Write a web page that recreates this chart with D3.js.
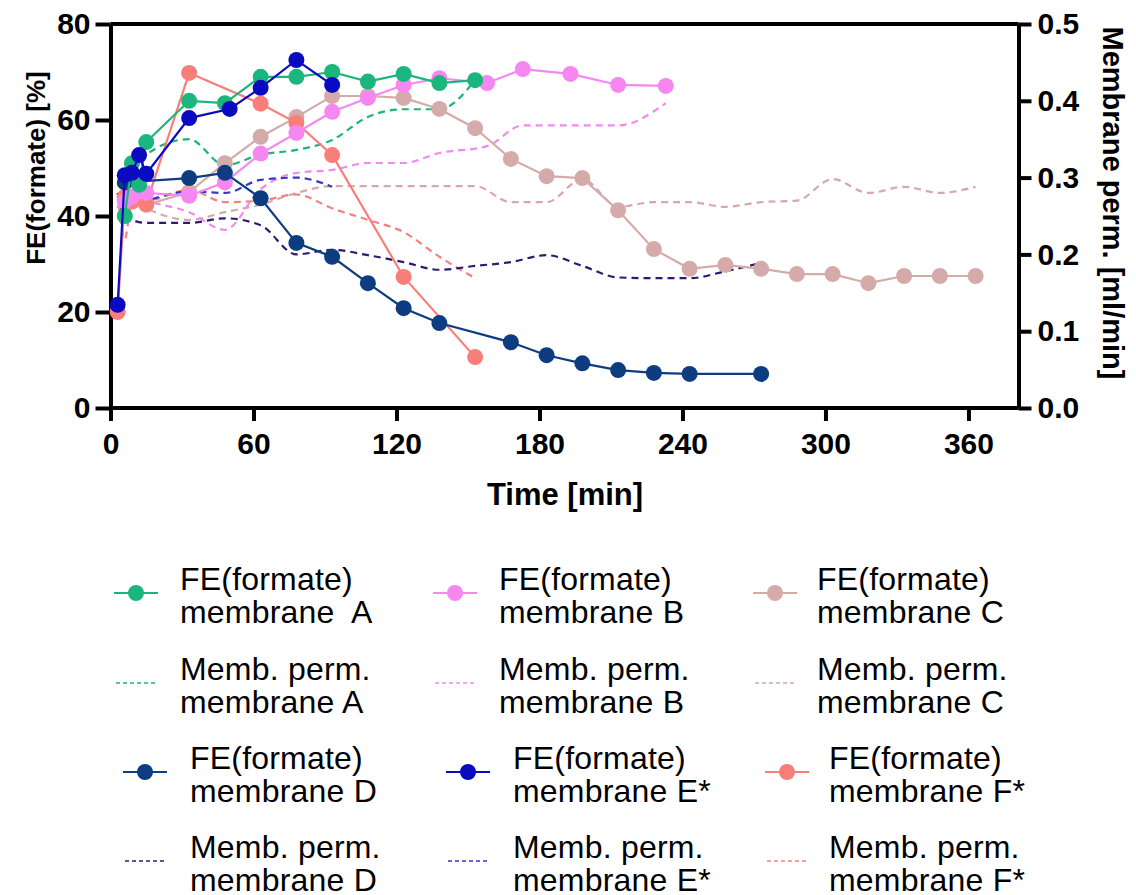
<!DOCTYPE html>
<html>
<head>
<meta charset="utf-8">
<title>FE formate vs membrane permeation</title>
<script src="https://cdnjs.cloudflare.com/ajax/libs/d3/7.8.5/d3.min.js"></script>
<style>
body { margin: 0; background: #fff; font-family: "Liberation Sans", Arial, sans-serif; }
.axis path, .axis line { stroke: #000; stroke-width: 4; }
.axis text { font-family: "Liberation Sans", Arial, sans-serif; font-weight: bold; font-size: 30px; fill: #000; }
.axis-title { font-family: "Liberation Sans", Arial, sans-serif; font-weight: bold; fill: #000; }
.legend text { font-family: "Liberation Sans", Arial, sans-serif; font-size: 32px; letter-spacing: 0.2px; fill: #000; }
</style>
</head>
<body>
<div id="chart"></div>
<script>
// FE(formate) [%] per membrane, time in min
var timeA = [6, 9, 12, 15, 33, 48, 63, 78, 93, 108, 123, 138, 153];
var feA   = [40, 51, 46.5, 55.4, 64, 63.5, 69, 69, 70, 68, 69.6, 67.7, 68.3];

var timeB = [6, 9, 15, 33, 48, 63, 78, 93, 108, 123, 138, 158, 173, 193, 213, 233];
var feB   = [43, 44, 44.8, 44.2, 47, 53, 57.3, 61.7, 64.6, 67.3, 68.7, 67.7, 70.6, 69.6, 67.3, 67.1];

var timeC = [9, 15, 33, 48, 63, 78, 93, 108, 123, 138, 153, 168, 183, 198, 213, 228, 243, 258, 273, 288, 303, 318, 333, 348, 363];
var feC   = [44, 42.3, 45, 51, 56.5, 60.6, 65, 65, 64.6, 62.3, 58.3, 51.9, 48.3, 47.9, 41.2, 33.1, 29, 29.8, 29, 27.9, 27.9, 26, 27.5, 27.5, 27.5];

var timeD = [6, 33, 48, 63, 78, 93, 108, 123, 138, 168, 183, 198, 213, 228, 243, 273];
var feD   = [47, 47.9, 49, 43.7, 34.4, 31.5, 26, 20.8, 17.7, 13.7, 11, 9.3, 7.9, 7.3, 7.1, 7.1];

var timeE = [3, 6, 9, 12, 15, 33, 50, 63, 78, 93];
var feE   = [21.5, 48.5, 49, 52.7, 48.8, 60.4, 62.3, 66.7, 72.5, 67.3];

var timeF = [3, 6, 9, 15, 33, 63, 78, 93, 123, 153];
var feF   = [20, 44, 43, 42.5, 69.8, 63.4, 59.4, 52.7, 27.3, 10.6];

// membrane permeation [ml/min]
var ptimeA = [3, 6, 15, 33, 48, 63, 78, 93, 108, 123, 138, 153];
var permA  = [0.27, 0.30, 0.33, 0.35, 0.316, 0.33, 0.336, 0.349, 0.379, 0.389, 0.389, 0.427];

var ptimeB = [3, 6, 15, 33, 48, 63, 78, 93, 108, 123, 138, 158, 173, 193, 213, 233];
var permB  = [0.26, 0.28, 0.27, 0.255, 0.232, 0.285, 0.306, 0.31, 0.319, 0.319, 0.332, 0.341, 0.368, 0.368, 0.368, 0.397];

var ptimeC = [3, 9, 15, 33, 48, 63, 78, 93, 108, 123, 138, 153, 168, 183, 198, 213, 228, 243, 258, 273, 288, 303, 318, 333, 348, 363];
var permC  = [0.28, 0.27, 0.26, 0.245, 0.255, 0.265, 0.28, 0.289, 0.289, 0.289, 0.289, 0.289, 0.268, 0.268, 0.298, 0.262, 0.268, 0.268, 0.262, 0.268, 0.27, 0.298, 0.28, 0.288, 0.28, 0.288];

var ptimeD = [3, 6, 15, 33, 48, 63, 78, 93, 108, 123, 138, 153, 168, 183, 198, 213, 228, 243, 258, 273];
var permD  = [0.28, 0.25, 0.241, 0.241, 0.247, 0.238, 0.2, 0.206, 0.199, 0.19, 0.18, 0.185, 0.19, 0.199, 0.185, 0.17, 0.169, 0.169, 0.178, 0.189];

var ptimeE = [3, 9, 15, 33, 48, 63, 78, 93];
var permE  = [0.27, 0.265, 0.27, 0.282, 0.28, 0.297, 0.3, 0.288];

var ptimeF = [3, 6, 9, 15, 33, 48, 63, 78, 93, 108, 123, 138, 153];
var permF  = [0.28, 0.22, 0.27, 0.27, 0.284, 0.268, 0.27, 0.278, 0.26, 0.245, 0.229, 0.197, 0.169];

var xTicks = [0, 60, 120, 180, 240, 300, 360];
var yTicks = [0, 20, 40, 60, 80];
var y2Ticks = [0, 0.1, 0.2, 0.3, 0.4, 0.5];

var feLabels = ["FE(formate)|membrane  A", "FE(formate)|membrane B", "FE(formate)|membrane C",
                "FE(formate)|membrane D", "FE(formate)|membrane E*", "FE(formate)|membrane F*"];
var permLabels = ["Memb. perm.|membrane A", "Memb. perm.|membrane B", "Memb. perm.|membrane C",
                  "Memb. perm.|membrane D", "Memb. perm.|membrane E*", "Memb. perm.|membrane F*"];

var feColors = ["#1bb57e", "#f787f0", "#d5abaa", "#0d3d80", "#0a0ac0", "#f87e7a"];
var permColors = ["#1bb57e", "#f08af0", "#d8a8a8", "#2e1a70", "#3a36c8", "#f48080"];

var W = 1136, H = 895;
var svg = d3.select("#chart").append("svg").attr("width", W).attr("height", H);

var x = d3.scaleLinear().domain([0, 381]).range([110.5, 1018.5]);
var y = d3.scaleLinear().domain([0, 80]).range([408, 24]);
var y2 = d3.scaleLinear().domain([0, 0.5]).range([408, 24]);

function zip(ts, vs) { return ts.map(function (t, i) { return [t, vs[i]]; }); }

var feSeries = [zip(timeA, feA), zip(timeB, feB), zip(timeC, feC), zip(timeD, feD), zip(timeE, feE), zip(timeF, feF)];
var permSeries = [zip(ptimeA, permA), zip(ptimeB, permB), zip(ptimeC, permC), zip(ptimeD, permD), zip(ptimeE, permE), zip(ptimeF, permF)];

// axes
svg.append("g").attr("class", "axis")
  .attr("transform", "translate(0,408)")
  .call(d3.axisBottom(x).tickValues(xTicks).tickSize(13).tickPadding(12).tickSizeOuter(0))
  .call(function (g) { g.select(".domain").attr("d", "M" + x(0) + ",0H" + x(381)); });

svg.append("g").attr("class", "axis")
  .attr("transform", "translate(110.5,0)")
  .call(d3.axisLeft(y).tickValues(yTicks).tickSize(15).tickPadding(5).tickSizeOuter(0));

svg.append("g").attr("class", "axis")
  .attr("transform", "translate(1018.5,0)")
  .call(d3.axisRight(y2).tickValues(y2Ticks).tickSize(13).tickPadding(6).tickSizeOuter(0)
    .tickFormat(d3.format(".1f")));

// top frame
svg.append("line").attr("x1", x(0)).attr("x2", x(381)).attr("y1", y(80)).attr("y2", y(80))
  .attr("stroke", "#000").attr("stroke-width", 4);

svg.append("text").attr("class", "axis-title")
  .attr("transform", "translate(45,168) rotate(-90)")
  .attr("text-anchor", "middle").style("font-size", "26px")
  .text("FE(formate) [%]");

svg.append("text").attr("class", "axis-title")
  .attr("transform", "translate(1103,203) rotate(90)")
  .attr("text-anchor", "middle").style("font-size", "29px")
  .text("Membrane perm. [ml/min]");

svg.append("text").attr("class", "axis-title")
  .attr("x", 565).attr("y", 505)
  .attr("text-anchor", "middle").style("font-size", "31px")
  .text("Time [min]");

// permeation (dashed)
var permLine = d3.line().curve(d3.curveMonotoneX)
  .x(function (d) { return x(d[0]); }).y(function (d) { return y2(d[1]); });

var drawOrder = [2, 5, 1, 3, 0, 4];
drawOrder.forEach(function (k) {
  svg.append("path").datum(permSeries[k])
    .attr("d", permLine).attr("fill", "none")
    .attr("stroke", permColors[k]).attr("stroke-width", 2.2)
    .attr("stroke-dasharray", "7,5");
});

// FE (solid + dots)
var feLine = d3.line()
  .x(function (d) { return x(d[0]); }).y(function (d) { return y(d[1]); });

drawOrder.forEach(function (k) {
  var g = svg.append("g");
  g.append("path").datum(feSeries[k])
    .attr("d", feLine).attr("fill", "none")
    .attr("stroke", feColors[k]).attr("stroke-width", 2.2);
  g.selectAll("circle").data(feSeries[k]).enter().append("circle")
    .attr("cx", function (d) { return x(d[0]); })
    .attr("cy", function (d) { return y(d[1]); })
    .attr("r", 8).attr("fill", feColors[k]);
});

// legend: 3 columns x 4 rows
var legend = svg.append("g").attr("class", "legend");
var colSym = [[136, 145], [455, 468], [775, 787]];
var colText = [[180, 190], [499, 513], [817, 829]];
var rowY = [593, 683, 772, 861];

for (var k = 0; k < 6; k++) {
  var col = k % 3, grp = Math.floor(k / 3);
  var cx = colSym[col][grp], tx = colText[col][grp];
  var yFe = rowY[grp * 2], yPerm = rowY[grp * 2 + 1];

  legend.append("line").attr("x1", cx - 22).attr("x2", cx + 22)
    .attr("y1", yFe).attr("y2", yFe).attr("stroke", feColors[k]).attr("stroke-width", 2);
  legend.append("circle").attr("cx", cx).attr("cy", yFe).attr("r", 8).attr("fill", feColors[k]);

  legend.append("line").attr("x1", cx - 20).attr("x2", cx + 22)
    .attr("y1", yPerm).attr("y2", yPerm).attr("stroke", permColors[k])
    .attr("stroke-width", 1.5).attr("stroke-dasharray", "4,3");

  [[feLabels[k], yFe], [permLabels[k], yPerm]].forEach(function (p) {
    var lines = p[0].split("|");
    var t = legend.append("text").attr("x", tx).attr("y", p[1] - 3).attr("xml:space", "preserve");
    t.append("tspan").attr("x", tx).text(lines[0]);
    t.append("tspan").attr("x", tx).attr("dy", 33).text(lines[1]);
  });
}
</script>
</body>
</html>
